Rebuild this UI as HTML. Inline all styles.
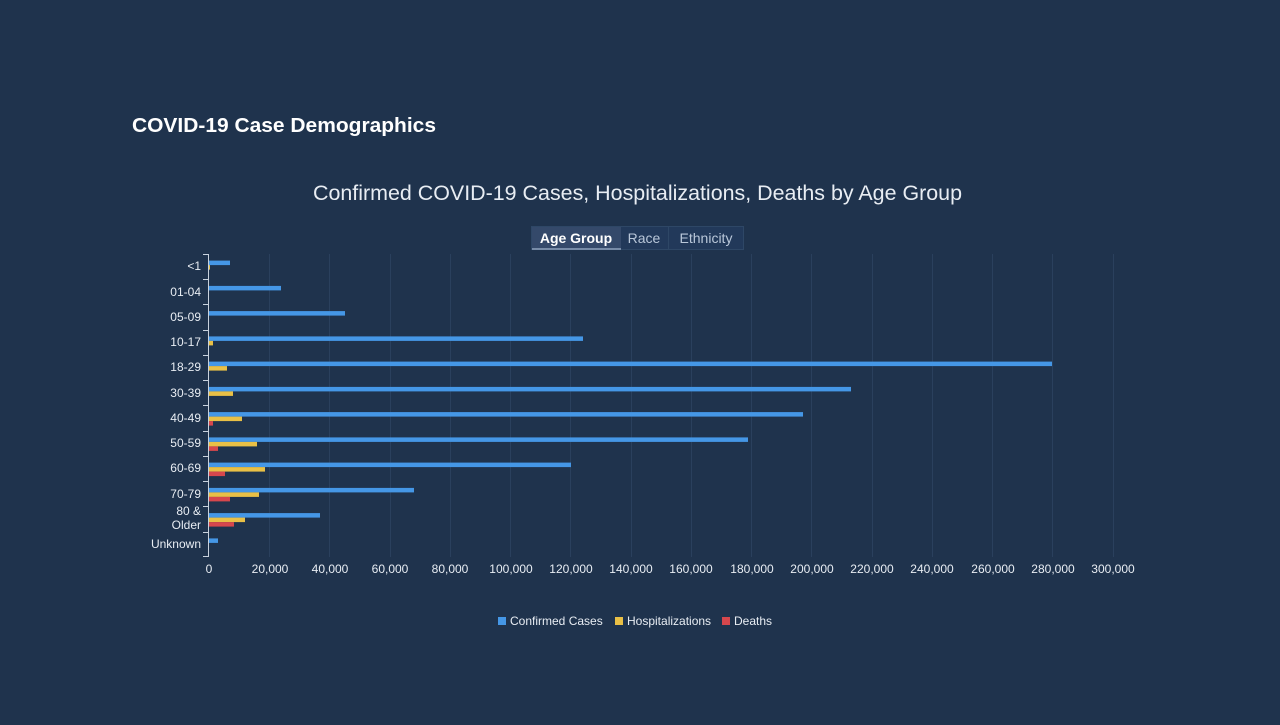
<!DOCTYPE html>
<html><head><meta charset="utf-8"><style>
body{margin:0;background:#1f334d;width:1280px;height:720px;overflow:hidden;font-family:"Liberation Sans",sans-serif}
</style></head><body>
<svg width="1280" height="720" xmlns="http://www.w3.org/2000/svg" font-family="Liberation Sans, sans-serif">
<rect width="1280" height="720" fill="#1f334d"/>
<text x="132" y="132" fill="#fff" font-size="20" font-weight="bold" textLength="304" lengthAdjust="spacingAndGlyphs">COVID-19 Case Demographics</text>
<text x="313" y="200" fill="#e8edf3" font-size="21" textLength="649" lengthAdjust="spacingAndGlyphs">Confirmed COVID-19 Cases, Hospitalizations, Deaths by Age Group</text>
<rect x="531.5" y="226.5" width="212" height="23" fill="#22395a" stroke="#2e4766"/>
<rect x="532" y="227" width="89" height="22" fill="#34496a"/>
<line x1="532" y1="249" x2="621" y2="249" stroke="#8fa3bd" stroke-width="1.5"/>
<line x1="668.5" y1="227" x2="668.5" y2="249" stroke="#2e4766"/>
<text x="576" y="243" fill="#fff" font-size="14" font-weight="bold" text-anchor="middle">Age Group</text>
<text x="644" y="243" fill="#b9c7d9" font-size="14" text-anchor="middle">Race</text>
<text x="706" y="243" fill="#b9c7d9" font-size="14" text-anchor="middle">Ethnicity</text>
<g stroke="#2a405d" stroke-width="1">
<line x1="269.5" y1="254" x2="269.5" y2="557"/><line x1="329.5" y1="254" x2="329.5" y2="557"/><line x1="390.5" y1="254" x2="390.5" y2="557"/><line x1="450.5" y1="254" x2="450.5" y2="557"/><line x1="510.5" y1="254" x2="510.5" y2="557"/><line x1="570.5" y1="254" x2="570.5" y2="557"/><line x1="631.5" y1="254" x2="631.5" y2="557"/><line x1="691.5" y1="254" x2="691.5" y2="557"/><line x1="751.5" y1="254" x2="751.5" y2="557"/><line x1="811.5" y1="254" x2="811.5" y2="557"/><line x1="872.5" y1="254" x2="872.5" y2="557"/><line x1="932.5" y1="254" x2="932.5" y2="557"/><line x1="992.5" y1="254" x2="992.5" y2="557"/><line x1="1052.5" y1="254" x2="1052.5" y2="557"/><line x1="1113.5" y1="254" x2="1113.5" y2="557"/>
</g>
<g stroke="#c8d2de" stroke-width="1">
<line x1="208.5" y1="254" x2="208.5" y2="557"/>
<line x1="203" y1="254.5" x2="209" y2="254.5"/><line x1="203" y1="279.5" x2="209" y2="279.5"/><line x1="203" y1="304.5" x2="209" y2="304.5"/><line x1="203" y1="330.5" x2="209" y2="330.5"/><line x1="203" y1="355.5" x2="209" y2="355.5"/><line x1="203" y1="380.5" x2="209" y2="380.5"/><line x1="203" y1="405.5" x2="209" y2="405.5"/><line x1="203" y1="431.5" x2="209" y2="431.5"/><line x1="203" y1="456.5" x2="209" y2="456.5"/><line x1="203" y1="481.5" x2="209" y2="481.5"/><line x1="203" y1="506.5" x2="209" y2="506.5"/><line x1="203" y1="532.5" x2="209" y2="532.5"/><line x1="203" y1="556.5" x2="209" y2="556.5"/>
</g>
<g fill="#e8edf3" font-size="12" text-anchor="end">
<text x="201" y="270">&lt;1</text><text x="201" y="296">01-04</text><text x="201" y="321">05-09</text><text x="201" y="346">10-17</text><text x="201" y="371">18-29</text><text x="201" y="397">30-39</text><text x="201" y="422">40-49</text><text x="201" y="447">50-59</text><text x="201" y="472">60-69</text><text x="201" y="498">70-79</text><text x="201" y="515">80 &amp;</text><text x="201" y="529">Older</text><text x="201" y="548">Unknown</text>
</g>
<g fill="#e8edf3" font-size="12" text-anchor="middle">
<text x="209" y="573">0</text><text x="270" y="573">20,000</text><text x="330" y="573">40,000</text><text x="390" y="573">60,000</text><text x="450" y="573">80,000</text><text x="511" y="573">100,000</text><text x="571" y="573">120,000</text><text x="631" y="573">140,000</text><text x="691" y="573">160,000</text><text x="752" y="573">180,000</text><text x="812" y="573">200,000</text><text x="872" y="573">220,000</text><text x="932" y="573">240,000</text><text x="993" y="573">260,000</text><text x="1053" y="573">280,000</text><text x="1113" y="573">300,000</text>
</g>
<g fill="#4597e6">
<rect x="209" y="260.6" width="21" height="4.5"/><rect x="209" y="285.9" width="72" height="4.5"/><rect x="209" y="311.1" width="136" height="4.5"/><rect x="209" y="336.4" width="374" height="4.5"/><rect x="209" y="361.6" width="843" height="4.5"/><rect x="209" y="386.9" width="642" height="4.5"/><rect x="209" y="412.1" width="594" height="4.5"/><rect x="209" y="437.4" width="539" height="4.5"/><rect x="209" y="462.6" width="362" height="4.5"/><rect x="209" y="487.9" width="205" height="4.5"/><rect x="209" y="513.1" width="111" height="4.5"/><rect x="209" y="538.4" width="9" height="4.5"/>
</g>
<g fill="#e9c046">
<rect x="209" y="265.1" width="1" height="4.5"/><rect x="209" y="340.9" width="4" height="4.5"/><rect x="209" y="366.1" width="18" height="4.5"/><rect x="209" y="391.4" width="24" height="4.5"/><rect x="209" y="416.6" width="33" height="4.5"/><rect x="209" y="441.9" width="48" height="4.5"/><rect x="209" y="467.1" width="56" height="4.5"/><rect x="209" y="492.4" width="50" height="4.5"/><rect x="209" y="517.6" width="36" height="4.5"/>
</g>
<g fill="#d6474d">
<rect x="209" y="421.1" width="4" height="4.5"/><rect x="209" y="446.4" width="9" height="4.5"/><rect x="209" y="471.6" width="16" height="4.5"/><rect x="209" y="496.9" width="21" height="4.5"/><rect x="209" y="522.1" width="25" height="4.5"/>
</g>
<g font-size="12" fill="#e8edf3">
<rect x="498" y="617" width="8" height="8" fill="#4597e6"/><text x="510" y="625">Confirmed Cases</text>
<rect x="615" y="617" width="8" height="8" fill="#e9c046"/><text x="627" y="625">Hospitalizations</text>
<rect x="722" y="617" width="8" height="8" fill="#d6474d"/><text x="734" y="625">Deaths</text>
</g>
</svg>
</body></html>
